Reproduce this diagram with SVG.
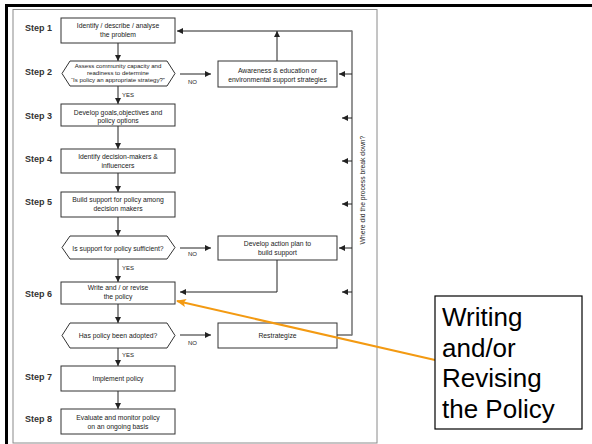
<svg xmlns="http://www.w3.org/2000/svg" width="592" height="444" viewBox="0 0 592 444">
  <style>
    .box { fill: #ffffff; stroke: #333333; stroke-width: 1; }
    .t { font-family: "Liberation Sans", Arial, sans-serif; font-size: 6.8px; fill: #222222; text-anchor: middle; }
    .ts { font-family: "Liberation Sans", Arial, sans-serif; font-size: 6.1px; fill: #222222; text-anchor: middle; }
    .step { font-family: "Liberation Sans", Arial, sans-serif; font-size: 9px; font-weight: bold; fill: #333333; }
    .lbl { font-family: "Liberation Sans", Arial, sans-serif; font-size: 6px; fill: #222222; }
    .ln { fill: none; stroke: #222222; stroke-width: 1; }
    .arr { fill: none; stroke: #222222; stroke-width: 1; marker-end: url(#ah); }
    .loop { fill: none; stroke: #7a7a7a; stroke-width: 1.6; }
    .call { font-family: "Liberation Sans", Arial, sans-serif; font-size: 26px; fill: #000000; }
  </style>
  <defs>
    <marker id="ah" markerUnits="userSpaceOnUse" markerWidth="6" markerHeight="6" refX="6" refY="3" orient="auto">
      <path d="M0,0 L6,3 L0,6 z" fill="#222222"/>
    </marker>
    <marker id="oh" markerUnits="userSpaceOnUse" markerWidth="10" markerHeight="8" refX="9" refY="4" orient="auto">
      <path d="M0,0 L10,4 L0,8 L2,4 z" fill="#f39a12"/>
    </marker>
  </defs>

  <rect width="592" height="444" fill="#ffffff"/>

  <!-- outer slide border and inner picture frame -->
  <rect x="6.5" y="5.5" width="600" height="460" fill="none" stroke="#000000" stroke-width="3"/>
  <rect x="13" y="9.5" width="364" height="433.5" fill="none" stroke="#8a8a8a" stroke-width="1"/>

  <!-- step labels -->
  <g id="step-labels">
    <text class="step" x="25" y="31">Step 1</text>
    <text class="step" x="25" y="75">Step 2</text>
    <text class="step" x="25" y="119">Step 3</text>
    <text class="step" x="25" y="162">Step 4</text>
    <text class="step" x="25" y="205">Step 5</text>
    <text class="step" x="25" y="297">Step 6</text>
    <text class="step" x="25" y="380">Step 7</text>
    <text class="step" x="25" y="422">Step 8</text>
  </g>

  <!-- connectors -->
  <g id="connectors">
    <!-- main column -->
    <line class="arr" x1="118" y1="43" x2="118" y2="61"/>
    <line class="arr" x1="118" y1="86" x2="118" y2="104"/>
    <line class="arr" x1="118" y1="126" x2="118" y2="149"/>
    <line class="arr" x1="118" y1="173" x2="118" y2="192"/>
    <line class="arr" x1="118" y1="217" x2="118" y2="236"/>
    <line class="arr" x1="118" y1="259" x2="118" y2="282"/>
    <line class="arr" x1="118" y1="304" x2="118" y2="323"/>
    <line class="arr" x1="118" y1="348" x2="118" y2="366"/>
    <line class="arr" x1="118" y1="391" x2="118" y2="409"/>

    <!-- NO branches -->
    <line class="arr" x1="180" y1="74" x2="211" y2="74"/>
    <line class="arr" x1="180" y1="248" x2="211" y2="248"/>
    <line class="arr" x1="180" y1="335" x2="211" y2="335"/>

    <!-- awareness back to step 1 -->
    <line class="arr" x1="277" y1="61" x2="277" y2="31"/>
    <line class="arr" x1="352" y1="31" x2="177" y2="31"/>

    <!-- action plan back to step 6 -->
    <polyline class="arr" points="277,260 277,292 180,292"/>

    <!-- restrategize loop -->
    <polyline class="ln" points="337,335 352,335"/>
    <line class="loop" x1="352" y1="30.5" x2="352" y2="335.5"/>
    <line class="arr" x1="352" y1="74" x2="339" y2="74"/>
    <line class="arr" x1="352" y1="118" x2="342" y2="118"/>
    <line class="arr" x1="352" y1="161" x2="342" y2="161"/>
    <line class="arr" x1="352" y1="204" x2="342" y2="204"/>
    <line class="arr" x1="352" y1="248" x2="339" y2="248"/>
    <line class="arr" x1="352" y1="292" x2="342" y2="292"/>

    <text class="lbl" x="122" y="96.5" font-size="5.8">YES</text>
    <text class="lbl" x="122" y="269.5" font-size="5.8">YES</text>
    <text class="lbl" x="122" y="356.5" font-size="5.8">YES</text>
    <text class="lbl" x="188" y="83.5">NO</text>
    <text class="lbl" x="188" y="255.5">NO</text>
    <text class="lbl" x="188" y="344.5">NO</text>

    <text class="t" transform="translate(364.5 190) rotate(-90)" font-size="7">Where did the process break down?</text>
  </g>

  <!-- main column nodes -->
  <g id="step1">
    <rect class="box" x="61" y="18" width="114" height="25"/>
    <text class="t" x="118" y="28">Identify / describe / analyse</text>
    <text class="t" x="118" y="37">the problem</text>
  </g>
  <g id="step2">
    <polygon class="box" points="62,73.5 70,61 167,61 175,73.5 167,86 70,86"/>
    <text class="ts" x="118" y="67.7">Assess community capacity and</text>
    <text class="ts" x="118" y="74.7">readiness to determine</text>
    <text class="ts" x="118" y="81.7">“Is policy an appropriate strategy?”</text>
  </g>
  <g id="step3">
    <rect class="box" x="61" y="104" width="114" height="22"/>
    <text class="t" x="118" y="114.5">Develop goals,objectives and</text>
    <text class="t" x="118" y="123">policy options</text>
  </g>
  <g id="step4">
    <rect class="box" x="61" y="149" width="114" height="24"/>
    <text class="t" x="118" y="159">Identify decision-makers &amp;</text>
    <text class="t" x="118" y="168">influencers</text>
  </g>
  <g id="step5">
    <rect class="box" x="61" y="192" width="114" height="25"/>
    <text class="t" x="118" y="202">Build support for policy among</text>
    <text class="t" x="118" y="211">decision makers</text>
  </g>
  <g id="support-check">
    <polygon class="box" points="62,247.5 70,236 167,236 175,247.5 167,259 70,259"/>
    <text class="t" x="118" y="250.6">Is support for policy sufficient?</text>
  </g>
  <g id="step6">
    <rect class="box" x="61" y="282" width="114" height="22"/>
    <text class="t" x="118" y="290">Write and / or revise</text>
    <text class="t" x="118" y="298.5">the policy</text>
  </g>
  <g id="adopted-check">
    <polygon class="box" points="62,335.5 70,323 167,323 175,335.5 167,348 70,348"/>
    <text class="t" x="118" y="337.6">Has policy been adopted?</text>
  </g>
  <g id="step7">
    <rect class="box" x="61" y="366" width="114" height="25"/>
    <text class="t" x="118" y="380.6">Implement policy</text>
  </g>
  <g id="step8">
    <rect class="box" x="61" y="409" width="114" height="25"/>
    <text class="t" x="118" y="420">Evaluate and monitor policy</text>
    <text class="t" x="118" y="429">on an ongoing basis</text>
  </g>

  <!-- side nodes -->
  <g id="awareness">
    <rect class="box" x="218" y="61" width="119" height="26"/>
    <text class="t" x="277.5" y="72.5">Awareness &amp; education or</text>
    <text class="t" x="277.5" y="81.5">environmental support strategies</text>
  </g>
  <g id="action-plan">
    <rect class="box" x="218" y="236" width="119" height="24"/>
    <text class="t" x="277.5" y="245.6">Develop action plan to</text>
    <text class="t" x="277.5" y="254.6">build support</text>
  </g>
  <g id="restrategize">
    <rect class="box" x="218" y="323" width="119" height="25"/>
    <text class="t" x="277.5" y="337.6">Restrategize</text>
  </g>

  <!-- callout -->
  <g id="callout">
    <line x1="435" y1="360" x2="177" y2="301" stroke="#f39a12" stroke-width="2" marker-end="url(#oh)"/>
    <rect x="435" y="296" width="147" height="133" fill="#ffffff" stroke="#000000" stroke-width="1.2"/>
    <text class="call" x="442" y="326">Writing</text>
    <text class="call" x="442" y="356.5">and/or</text>
    <text class="call" x="442" y="387">Revising</text>
    <text class="call" x="442" y="417.5">the Policy</text>
  </g>
</svg>
